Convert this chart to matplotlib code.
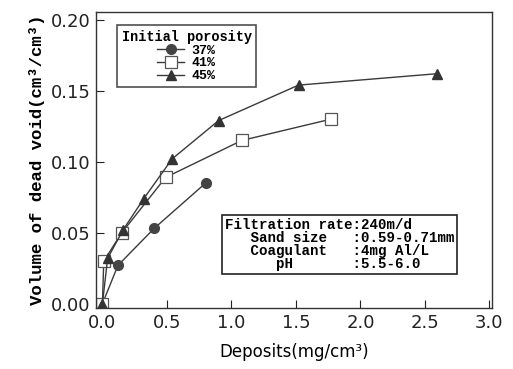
import matplotlib
matplotlib.use("Agg")
import matplotlib.pyplot as plt

# ---- data ------------------------------------------------------------------
dep_37 = [0.0, 0.12, 0.40, 0.80]
void_37 = [0.0, 0.027, 0.053, 0.085]

dep_41 = [0.0, 0.01, 0.15, 0.49, 1.08, 1.77]
void_41 = [0.0, 0.030, 0.050, 0.089, 0.115, 0.130]

dep_45 = [0.0, 0.04, 0.16, 0.32, 0.54, 0.90, 1.52, 2.59]
void_45 = [0.0, 0.032, 0.052, 0.074, 0.102, 0.129, 0.154, 0.162]

labels = ["37%", "41%", "45%"]
conditions = [
    "Filtration rate:240m/d",
    "   Sand size   :0.59-0.71mm",
    "   Coagulant   :4mg Al/L",
    "      pH       :5.5-6.0",
]

mono = "Liberation Mono"
line_col = "#3a3a3a"

fig = plt.figure(figsize=(5.13, 3.69), dpi=100)
ax = fig.add_axes([96 / 513, 1 - 308 / 369, 396 / 513, 296 / 369])

ax.plot(dep_37, void_37, color=line_col, lw=1.0, marker="o", ms=7,
        mfc="#444444", mec="#444444", label=labels[0])
ax.plot(dep_41, void_41, color=line_col, lw=1.0, marker="s", ms=9,
        mfc="white", mec="#555555", mew=0.9, label=labels[1])
ax.plot(dep_45, void_45, color=line_col, lw=1.0, marker="^", ms=7.5,
        mfc="#333333", mec="#333333", label=labels[2])

ax.set_xlim(-0.05, 3.02)
ax.set_ylim(-0.003, 0.2055)
ax.set_xticks([0.0, 0.5, 1.0, 1.5, 2.0, 2.5, 3.0])
ax.set_yticks([0.00, 0.05, 0.10, 0.15, 0.20])
ax.xaxis.set_major_formatter(matplotlib.ticker.FormatStrFormatter("%.1f"))
ax.yaxis.set_major_formatter(matplotlib.ticker.FormatStrFormatter("%.2f"))
ax.tick_params(direction="in", length=6, width=0.8, labelsize=13,
               colors="#222222", pad=4)
for s in ax.spines.values():
    s.set_linewidth(1.0)
    s.set_color("#333333")

ax.set_xlabel("Deposits(mg/cm³)", fontsize=12, labelpad=8)
ax.set_ylabel("Volume of dead void(cm³/cm³)", fontsize=12.5,
              family=mono, fontweight="bold", labelpad=4)

leg = ax.legend(title="Initial porosity", loc="upper left",
                bbox_to_anchor=(0.053, 0.956), borderaxespad=0,
                frameon=True, fancybox=False,
                edgecolor="#222222", handlelength=2.0, handletextpad=0.6,
                borderpad=0.35, labelspacing=0.05,
                prop={"family": mono, "weight": "bold", "size": 9.5},
                title_fontproperties={"family": mono, "weight": "bold",
                                      "size": 9.8})
leg.get_frame().set_linewidth(1.2)

ax.text(0.325, 0.125, "\n".join(conditions), transform=ax.transAxes,
        family=mono, fontweight="bold", fontsize=10.2, linespacing=0.9,
        va="bottom", ha="left",
        bbox=dict(boxstyle="square,pad=0.2", fc="white", ec="#222222",
                  lw=1.2))

fig.savefig("out.png", dpi=100)
